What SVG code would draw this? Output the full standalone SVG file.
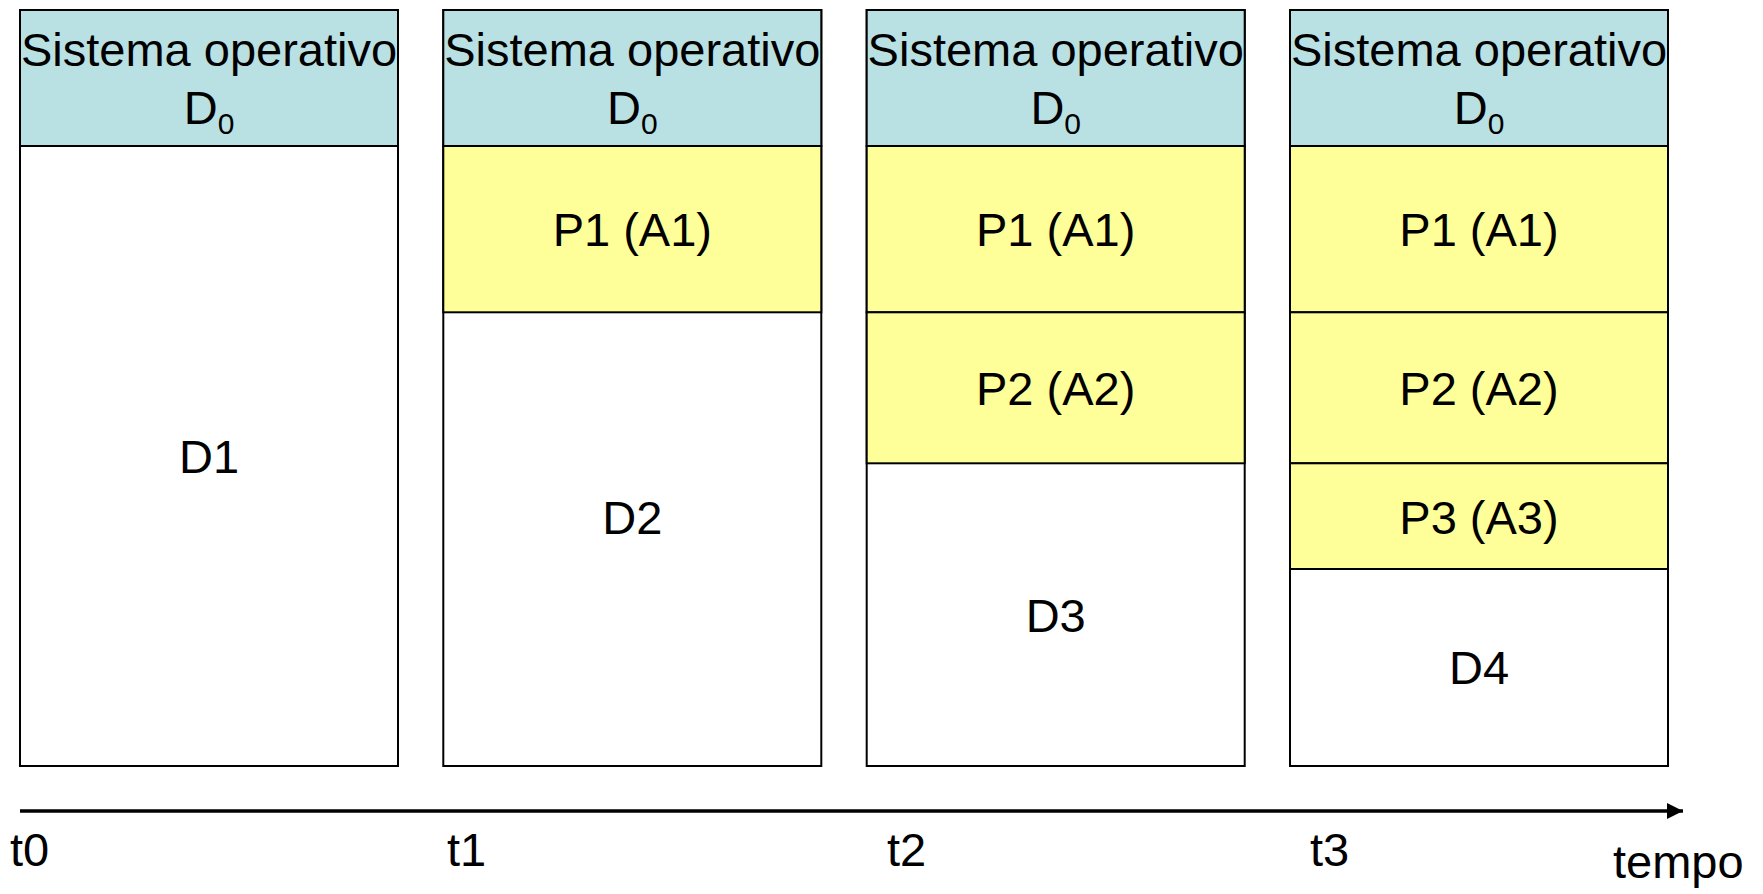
<svg xmlns="http://www.w3.org/2000/svg" width="1763" height="894" viewBox="0 0 1763 894">
<style>
.box{stroke:#000;stroke-width:2}
.os{fill:#B9E0E3}
.proc{fill:#FFFF99}
.free{fill:#FFFFFF}
text{font-family:"Liberation Sans",Arial,sans-serif;font-size:47px;fill:#000;text-anchor:middle}
.sub{font-size:30px}
.lbl{text-anchor:start}
</style>
<defs>
<marker id="arr" markerWidth="16" markerHeight="16" refX="16" refY="8" orient="auto" markerUnits="userSpaceOnUse">
<path d="M0,0 L16,8 L0,16 Z" fill="#000"/>
</marker>
</defs>
<rect width="1763" height="894" fill="#fff"/>

<g id="col-t0">
<rect class="box free" x="20" y="10" width="378" height="756"/>
<rect class="box os" x="20" y="10" width="378" height="136"/>
<text x="209" y="65.5">Sistema operativo</text>
<text x="209" y="124"><tspan>D</tspan><tspan class="sub" dy="10">0</tspan></text>
<text x="209" y="473">D1</text>
</g>

<g id="col-t1">
<rect class="box free" x="443.3" y="10" width="378" height="756"/>
<rect class="box os" x="443.3" y="10" width="378" height="136"/>
<text x="632.3" y="65.5">Sistema operativo</text>
<text x="632.3" y="124"><tspan>D</tspan><tspan class="sub" dy="10">0</tspan></text>
<rect class="box proc" x="443.3" y="146" width="378" height="166.3"/>
<text x="632.3" y="246">P1 (A1)</text>
<text x="632.3" y="534">D2</text>
</g>

<g id="col-t2">
<rect class="box free" x="866.7" y="10" width="378" height="756"/>
<rect class="box os" x="866.7" y="10" width="378" height="136"/>
<text x="1055.7" y="65.5">Sistema operativo</text>
<text x="1055.7" y="124"><tspan>D</tspan><tspan class="sub" dy="10">0</tspan></text>
<rect class="box proc" x="866.7" y="146" width="378" height="166.3"/>
<text x="1055.7" y="246">P1 (A1)</text>
<rect class="box proc" x="866.7" y="312.3" width="378" height="151"/>
<text x="1055.7" y="405">P2 (A2)</text>
<text x="1055.7" y="631.5">D3</text>
</g>

<g id="col-t3">
<rect class="box free" x="1290" y="10" width="378" height="756"/>
<rect class="box os" x="1290" y="10" width="378" height="136"/>
<text x="1479" y="65.5">Sistema operativo</text>
<text x="1479" y="124"><tspan>D</tspan><tspan class="sub" dy="10">0</tspan></text>
<rect class="box proc" x="1290" y="146" width="378" height="166.3"/>
<text x="1479" y="246">P1 (A1)</text>
<rect class="box proc" x="1290" y="312.3" width="378" height="151"/>
<text x="1479" y="405">P2 (A2)</text>
<rect class="box proc" x="1290" y="463.3" width="378" height="105.7"/>
<text x="1479" y="533.5">P3 (A3)</text>
<text x="1479" y="684">D4</text>
</g>

<g id="connectors">
<line x1="20" y1="811" x2="1683" y2="811" stroke="#000" stroke-width="3.5" marker-end="url(#arr)"/>
</g>

<g id="labels">
<text class="lbl" x="10" y="866">t0</text>
<text class="lbl" x="447" y="866">t1</text>
<text class="lbl" x="887" y="866">t2</text>
<text class="lbl" x="1310" y="866">t3</text>
<text class="lbl" x="1613" y="878">tempo</text>
</g>
</svg>
